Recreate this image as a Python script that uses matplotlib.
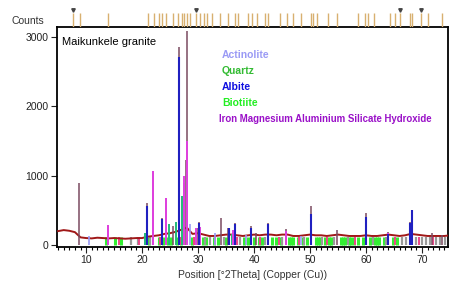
import matplotlib
matplotlib.use("Agg")
import matplotlib.pyplot as plt
import numpy as np

plt.rcParams['font.family'] = ['Liberation Sans', 'DejaVu Sans']

# ---------------- data ----------------
bg_pos = list(range(5, 76))
bg_cnt = [200, 215, 205, 185, 110, 100, 95, 105, 100, 95, 100, 95, 90, 95, 100, 100,
          120, 130, 140, 160, 170, 190, 220, 250, 160, 170, 150, 130, 130, 140, 150,
          150, 140, 130, 140, 150, 140, 150, 150, 140, 150, 150, 130, 130, 140, 150,
          140, 140, 130, 140, 150, 140, 130, 130, 130, 140, 130, 130, 140, 150, 140,
          130, 140, 160, 150, 140, 130, 130, 130, 130, 140]

peak_pos = [8.8, 13.9, 20.9, 22.0, 23.6, 24.2, 25.6, 26.6, 27.4, 27.9, 28.0, 29.8, 30.2,
            34.1, 35.4, 36.6, 39.5, 40.3, 42.5, 45.7, 50.2, 54.8, 60.0, 63.9, 67.9, 68.2,
            71.8, 73.5]
peak_cnt = [900, 290, 600, 1070, 390, 680, 280, 2860, 900, 1230, 3090, 250, 330,
            390, 250, 310, 270, 180, 320, 230, 560, 210, 460, 190, 330, 510, 170, 150]

albite_pos = [20.9, 23.6, 26.6, 30.2, 35.5, 36.6, 39.5, 42.5, 50.2, 60.0, 64.0, 67.9, 68.2]
albite_cnt = [560, 380, 2710, 320, 250, 300, 250, 300, 450, 400, 160, 320, 500]

ironmg_pos = [13.9, 22.0, 24.2, 27.5, 28.1, 29.6, 45.7, 30.4, 36.3, 64.0]
ironmg_cnt = [290, 1070, 680, 1000, 1500, 240, 200, 260, 220, 170]

actin_pos = [10.5, 28.6, 33.1, 38.6, 48.3]
actin_cnt = [130, 300, 180, 140, 130]

quartz_pos = [24.8, 26.0, 27.2, 20.5, 36.0]
quartz_cnt = [300, 330, 700, 180, 160]

green_low = [13.5, 15.2, 16.2, 21.2, 23.0, 23.8, 24.6, 25.2, 26.2, 27.0, 29.0, 30.8,
             31.5, 32.8, 33.6, 35.0, 38.2, 39.0, 40.0, 40.8, 41.5, 43.2, 44.0, 44.8,
             46.2, 46.6, 47.0, 47.8, 48.8, 49.5, 51.0, 51.4, 51.8, 52.6, 53.4, 53.8,
             55.5, 55.9, 56.2, 57.0, 57.4, 57.8, 58.6, 59.4, 60.8, 61.6, 62.0, 62.4,
             63.2, 64.8, 65.5]
grey_low = [18.0, 19.2, 21.5, 29.4, 31.2, 32.2, 34.6, 37.5, 42.0, 45.0, 49.0, 52.2,
            54.2, 56.8, 61.2, 63.6, 66.5, 67.2, 69.0, 70.0, 70.8, 71.5, 72.5, 73.2, 74.2]
pink_low = [15.8, 19.5, 23.2, 26.8, 29.2, 33.0, 37.0, 41.0, 44.4, 48.0, 53.0, 58.0,
            65.2, 69.5, 72.0]

ref_tick_pos = [7.68, 8.93, 13.93, 21.07, 22.14, 23.04, 23.57, 24.29, 25.54, 26.43,
                27.14, 27.5, 28.04, 28.57, 29.64, 30.36, 31.07, 31.61, 32.5, 33.93,
                35.36, 36.61, 37.14, 38.93, 39.64, 40.54, 41.96, 42.5, 44.64, 45.89,
                46.96, 48.39, 50.18, 50.54, 51.25, 53.21, 54.82, 58.57, 59.82, 60.36,
                61.43, 64.29, 65.18, 66.07, 67.86, 68.21, 69.82, 71.07, 73.57]
ref_marker_pos = [7.68, 29.64, 66.07, 69.82]

legend_names = ["Actinolite", "Quartz", "Albite", "Biotiite",
                "Iron Magnesium Aluminium Silicate Hydroxide"]
legend_colors = ["#9a9af5", "#33bb33", "#1010e0", "#22ee22", "#9a10c8"]

# ---------------- figure ----------------
W, H = 450, 287
fig = plt.figure(figsize=(W / 100, H / 100), dpi=100)
fig.patch.set_facecolor("white")
L, R, T, B = 57, 448, 27, 247
ax = fig.add_axes([L / W, 1 - B / H, (R - L) / W, (B - T) / H])
ax.set_xlim(4.8, 74.65)
ax.set_ylim(-29, 3144)

# low reference bars
ax.vlines(green_low, 0, 120, color="#33ee33", lw=2.2, zorder=2)
ax.vlines(grey_low, 0, 110, color="#999999", lw=1.6, zorder=2)
ax.vlines(pink_low, 0, 115, color="#ee4488", lw=1.4, zorder=2)

# background profile
ax.plot(bg_pos, bg_cnt, color="#a01818", lw=1.4, zorder=3)

# observed peaks
ax.vlines(peak_pos, 0, peak_cnt, color="#7a4a60", lw=1.1, zorder=3)
ax.vlines(quartz_pos, 0, quartz_cnt, color="#22bb77", lw=1.4, zorder=4)
ax.vlines(ironmg_pos, 0, ironmg_cnt, color="#e040e0", lw=1.4, zorder=4)
ax.vlines(actin_pos, 0, actin_cnt, color="#9a9af5", lw=1.2, zorder=4)
ax.vlines(albite_pos, 0, albite_cnt, color="#2020c0", lw=1.5, zorder=5)

for s in ax.spines.values():
    s.set_linewidth(1.3)
    s.set_color("black")

ax.set_xticks([10, 20, 30, 40, 50, 60, 70])
ax.set_xticks(np.arange(5, 75, 1), minor=True)
ax.set_yticks([0, 1000, 2000, 3000])
ax.tick_params(axis="both", which="major", labelsize=7.5, colors="#222222",
               length=4, width=0.8, pad=2)
ax.tick_params(axis="x", which="minor", length=2.5, width=0.8)
ax.set_xlabel("Position [°2Theta] (Copper (Cu))", fontsize=7.5, color="#333333", labelpad=3)

ax.text(0.012, 0.955, "Maikunkele granite", transform=ax.transAxes, fontsize=8,
        color="black", va="top", ha="left")

ys = [55, 71, 87, 103, 119]
xs = [222, 222, 222, 222, 219]
sizes = [7.5, 7.5, 7.5, 7.5, 6.9]
for name, c, y, x, fs in zip(legend_names, legend_colors, ys, xs, sizes):
    fig.text(x / W, 1 - y / H, name, color=c, fontsize=fs, fontweight="bold",
             va="center", ha="left")

# top reference strip
axt = fig.add_axes([L / W, 1 - T / H, (R - L) / W, 22 / H], sharex=ax)
axt.set_ylim(0, 1)
axt.axis("off")
axt.vlines(ref_tick_pos, 0, 0.65, color="#d8b070", lw=1.0)
axt.plot(ref_marker_pos, [0.78] * len(ref_marker_pos), marker="v", ls="none",
         color="#444444", ms=2.5)
fig.text(12 / W, 1 - 21 / H, "Counts", fontsize=7.5, color="#333333", va="center")

fig.savefig("out.png", dpi=100)
